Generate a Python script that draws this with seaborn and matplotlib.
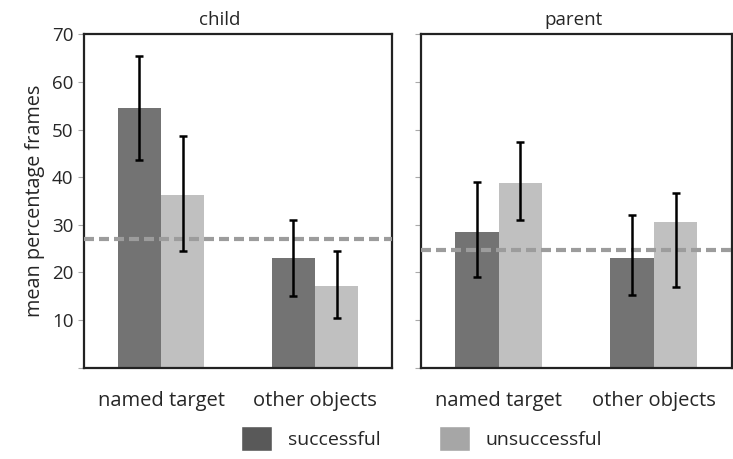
import matplotlib
matplotlib.use("Agg")
import matplotlib.pyplot as plt
import matplotlib.patches as mpatches
import seaborn as sns
import pandas as pd
import numpy as np

# data
panels = ["child", "parent"]
targets = ["named target", "other objects"]
outcomes = ["successful", "unsuccessful"]

child_mean = [54.5, 36.3, 23.0, 17.2]      # named succ, named unsucc, other succ, other unsucc
child_lo = [43.6, 24.5, 15.1, 10.4]
child_hi = [65.5, 48.7, 31.1, 24.4]
parent_mean = [28.4, 38.7, 23.0, 30.5]
parent_lo = [19.0, 31.1, 15.3, 17.0]
parent_hi = [39.0, 47.4, 32.1, 36.7]
chance = [27.0, 24.8]

rows = []
for p, m, lo, hi in [("child", child_mean, child_lo, child_hi),
                     ("parent", parent_mean, parent_lo, parent_hi)]:
    k = 0
    for t in targets:
        for o in outcomes:
            rows.append({"panel": p, "target": t, "outcome": o,
                         "value": m[k], "lo": lo[k], "hi": hi[k]})
            k += 1
df = pd.DataFrame(rows)

sns.set_style("white")
plt.rcParams['font.family'] = ['Open Sans', 'DejaVu Sans']

bar_colors = {"successful": "#737373", "unsuccessful": "#c0c0c0"}
leg_colors = {"successful": "#595959", "unsuccessful": "#a6a6a6"}

fig = plt.figure(figsize=(7.33, 4.59), dpi=100)
ax_l = fig.add_axes([0.1146, 0.1989, 0.4202, 0.7264])
ax_r = fig.add_axes([0.5744, 0.1989, 0.4236, 0.7264])

for ax, p, ch in zip([ax_l, ax_r], panels, chance):
    d = df[df.panel == p]
    sns.barplot(data=d, x="target", y="value", hue="outcome", order=targets,
                hue_order=outcomes, palette=bar_colors, width=0.56,
                errorbar=None, legend=False, ax=ax, saturation=1, linewidth=0)
    for cont, o in zip(ax.containers, outcomes):
        for bar, t in zip(cont, targets):
            r = d[(d.target == t) & (d.outcome == o)].iloc[0]
            xc = bar.get_x() + bar.get_width() / 2
            ax.errorbar(xc, r.value, yerr=[[r.value - r.lo], [r.hi - r.value]],
                        fmt="none", ecolor="black", elinewidth=1.8,
                        capsize=3, capthick=1.8, zorder=5)
    ax.axhline(ch, color="#9c9c9c", lw=3, ls=(0, (2.4, 1.2)), zorder=4)
    ax.set_xlim(-0.5, 1.5)
    ax.set_ylim(0, 70)
    ax.set_yticks(range(0, 80, 10))
    ax.set_xticks([0, 1])
    ax.set_xticks([-0.5, 0.5, 1.5], minor=True)
    ax.tick_params(axis="x", which="major", length=0, pad=17, labelsize=14.5)
    ax.tick_params(axis="x", which="minor", length=4, width=0.8,
                   color="#aaaaaa", direction="out")
    ax.tick_params(axis="y", length=4, width=0.8, color="#aaaaaa",
                   direction="out", labelsize=13.5, left=True)
    for s in ax.spines.values():
        s.set_linewidth(1.6)
        s.set_color("#222222")
    ax.set_xlabel("")
    ax.set_ylabel("")

ax_l.set_title("child", fontsize=13.5, pad=7, x=0.44)
ax_r.set_title("parent", fontsize=13.5, pad=7, x=0.49)
ax_l.set_yticklabels([""] + [str(v) for v in range(10, 80, 10)])
ax_r.set_yticklabels([])
ax_l.set_ylabel("mean percentage frames", fontsize=14.3, labelpad=5)

handles = [mpatches.Patch(facecolor=leg_colors[o], label=o) for o in outcomes]
fig.legend(handles=handles, loc="lower center", ncol=2, frameon=False,
           bbox_to_anchor=(0.575, -0.02), fontsize=14, handlelength=1.6,
           handleheight=1.6, handletextpad=0.8, columnspacing=3.0)

fig.savefig("out.png", dpi=100)
